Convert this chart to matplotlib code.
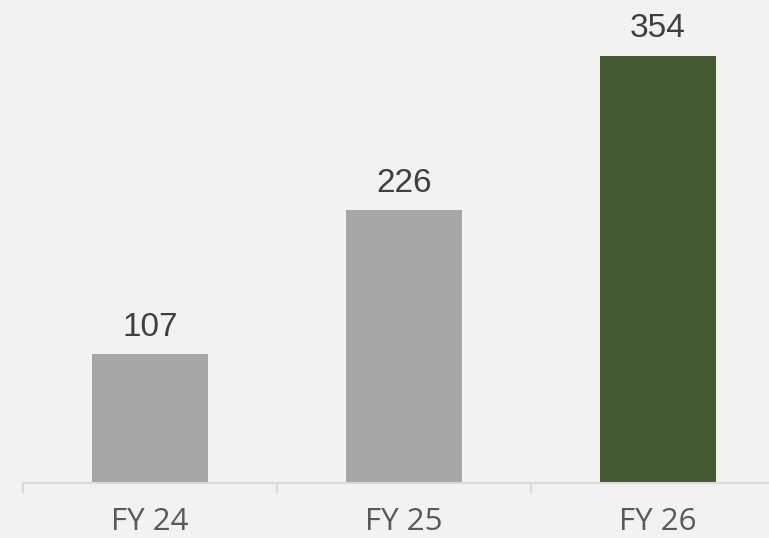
import numpy as np
import matplotlib.pyplot as plt

categories = ["FY 24", "FY 25", "FY 26"]
values = [107, 226, 354]
bar_colors = ["#a6a6a6", "#a6a6a6", "#435a33"]

fig = plt.figure(figsize=(7.69, 5.38), dpi=100)
fig.patch.set_facecolor("#f2f2f2")

# axes spans past the right edge like the original
ax = fig.add_axes([23 / 769, 55 / 538, 762 / 769, 483 / 538])
ax.set_facecolor("#f2f2f2")

x = np.arange(len(categories))
bars = ax.bar(x, values, width=0.457, color=bar_colors, zorder=2)

for xi, v in zip(x, values):
    ax.annotate(str(v), (xi, v), xytext=(0, 8), textcoords="offset points",
                ha="center", va="bottom", fontsize=24, color="#404040",
                family="Liberation Sans")

ax.set_xlim(-0.5, len(categories) - 0.5)
ax.set_ylim(0, 400)

for s in ["top", "right", "left"]:
    ax.spines[s].set_visible(False)
ax.spines["bottom"].set_color("#d9d9d9")
ax.spines["bottom"].set_linewidth(1.5)

ax.set_yticks([])
ax.set_xticks(x)
ax.set_xticklabels(categories, fontsize=22.5, color="#595959",
                   family="Open Sans")
ax.tick_params(axis="x", length=0, pad=17, labelcolor="#595959")
ax.set_xticks(np.arange(-0.5, len(categories) + 0.5, 1), minor=True)
ax.tick_params(axis="x", which="minor", length=7, width=1.5, color="#d9d9d9")

fig.savefig("out.png", dpi=100, facecolor=fig.get_facecolor())
